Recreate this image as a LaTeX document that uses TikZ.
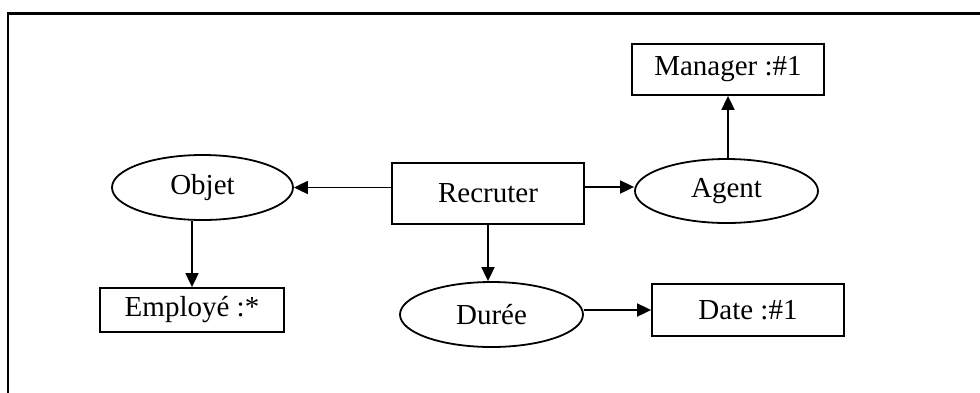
\documentclass[tikz,border=0pt]{standalone}
\usepackage{fontspec}
\setmainfont{Liberation Serif}
\usetikzlibrary{shapes.geometric,arrows.meta}

\tikzset{
  box/.style={draw, line width=0.9pt, rectangle, inner sep=0pt, minimum width=96pt},
  role/.style={draw, line width=0.9pt, ellipse, inner sep=0pt, minimum width=91.5pt, minimum height=32.5pt},
  link/.style={line width=0.9pt, -{Triangle[length=7pt,width=6.5pt]}}
}

\begin{document}
\begin{tikzpicture}[x=0.5pt, y=-0.5pt, font=\fontsize{14.5}{17}\selectfont]

  \useasboundingbox (0,0) rectangle (980,392);
  \draw[line width=1.2pt] (8,13.5) rectangle (1000,420);

  \node (rec) [box, minimum height=30.5pt] at (488,193.5) {Recruter};
  \node (obj) [role, minimum width=90.5pt] at (202.5,187.5) {Objet};
  \node (agt) [role, minimum height=32pt] at (726.5,191) {Agent};
  \node (dur) [role] at (491.5,314.5) {Durée};
  \node (mgr) [box, minimum height=25.5pt] at (728,69.5) {Manager :\#1};
  \node (emp) [box, minimum width=92pt, minimum height=22pt] at (192,310) {Employé :*};
  \node (dat) [box, minimum height=26pt] at (748,310) {Date :\#1};

  \draw[link] (rec.west |- obj.east) -- (obj.east);
  \draw[link] ([yshift=2pt]rec.east |- agt.west) -- ([yshift=2pt]agt.west);
  \draw[link] (agt.north -| mgr.south) -- (mgr.south);
  \draw[link] (emp.north |- obj.south) -- (emp.north);
  \draw[link] (rec.south) -- (rec.south |- dur.north);
  \draw[link] (dur.east |- dat.west) -- (dat.west);

\end{tikzpicture}
\end{document}
